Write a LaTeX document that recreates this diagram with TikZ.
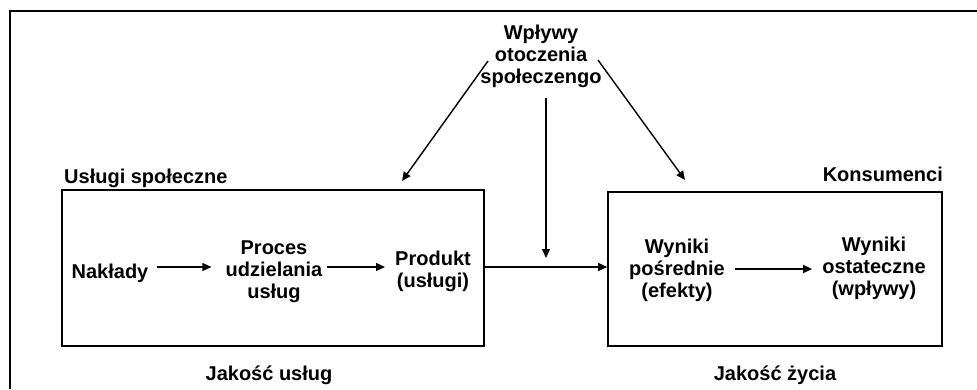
\documentclass[tikz,border=0pt]{standalone}
\usepackage{fontspec}
\setmainfont{Liberation Sans}
\usetikzlibrary{arrows.meta,calc}

\begin{document}
\begin{tikzpicture}[x=1pt, y=-1pt,
			every node/.style = {font=\fontsize{20}{22}\selectfont\bfseries, inner sep=4pt, align=center},
			box/.style = {draw, line width=1.6pt, inner sep=0pt},
			arr/.style = {-{Triangle[length=9pt,width=8pt]}, line width=1.4pt}]
			
			\useasboundingbox (0,0) rectangle (977,389);
			\draw[line width=1.8pt] (10,389) |- (977,11);
			
			% boxes
			\node[box, minimum width=422pt, minimum height=156pt] (lbox) at (273,268) {};
			\node[box, minimum width=334pt, minimum height=154pt] (rbox) at (775,269) {};
			
			\node[anchor=base west] (uslugi) at (60,183) {Usługi społeczne};
			\node[anchor=base east] (konsum) at (947,181) {Konsumenci};
			\node[anchor=base] (jakus) at (269,380) {Jakość usług};
			\node[anchor=base] (jakzy) at (775,380) {Jakość życia};
			
			\node[anchor=base] (nakl) at (110,278) {Nakłady};
			\node (proc) at (274,272) {Proces\\udzielania\\usług};
			\node (prod) at (433,271) {Produkt\\(usługi)};
			\node (wpos) at (677,270) {Wyniki\\pośrednie\\(efekty)};
			\node (wost) at (874,268) {Wyniki\\ostateczne\\(wpływy)};
			\node (otocz) at (541,56) {Wpływy\\otoczenia\\społeczengo};
			
			\coordinate (row) at (0,267);
			\coordinate (wrow) at (0,269);
			\coordinate (merge) at (546,267);
			\coordinate (ltip) at (402,181);
			\coordinate (rtip) at (685,180);
			
			\draw[arr, shorten <=4pt, shorten >=10pt] (nakl.east |- row) -- (proc.west |- row);
			\draw[arr, shorten >=6pt] (proc.east |- row) -- (prod.west |- row);
			\draw[arr] (lbox.east |- row) -- (rbox.west |- row);
			\draw[arr, shorten <=6pt] (otocz.south -| merge) -- ([yshift=9pt]merge);
			\draw[arr] ($(otocz.center)+(-53,5)$) -- (ltip);
			\draw[arr] ($(otocz.center)+(57,4)$) -- (rtip);
			\draw[arr, shorten <=6pt, shorten >=6pt] (wpos.east |- wrow) -- (wost.west |- wrow);
			\end{tikzpicture}
\end{document}
